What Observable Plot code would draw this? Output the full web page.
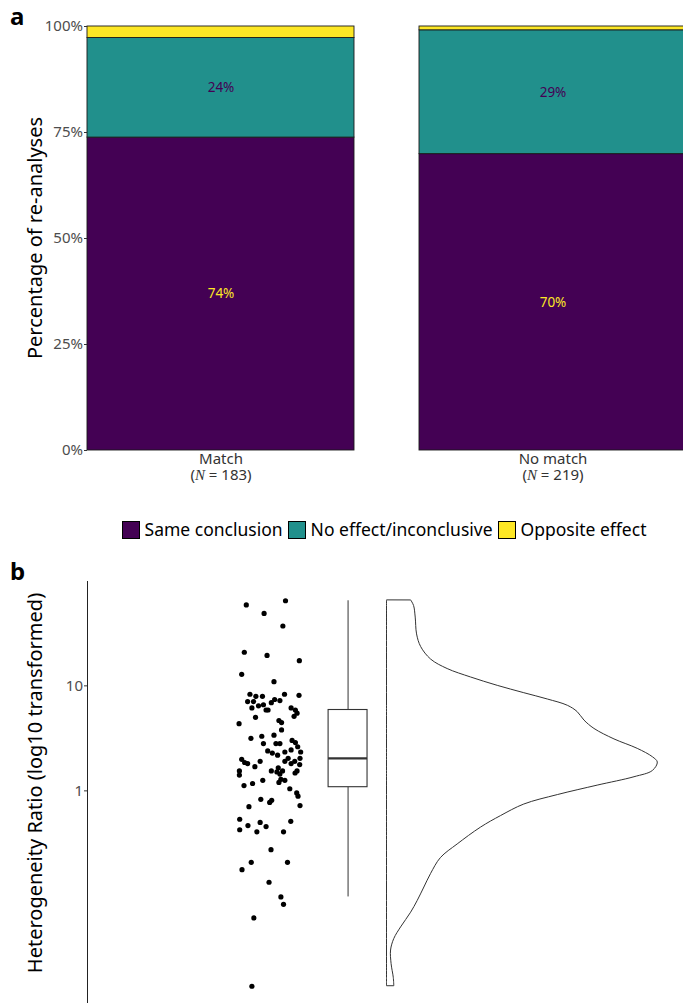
<!DOCTYPE html>
<html><head><meta charset="utf-8">
<script src="https://cdn.jsdelivr.net/npm/d3@7"></script>
<script src="https://cdn.jsdelivr.net/npm/@observablehq/plot@0.6"></script>
<style>
html,body{margin:0;padding:0;background:#fff;overflow:hidden;}
#wrap{position:relative;width:683px;height:1003px;font-family:"Noto Sans",sans-serif;overflow:hidden;}
.plabel{position:absolute;font-weight:bold;font-size:24px;line-height:28px;color:#000;}
.chart{position:absolute;left:0;}
#legend{position:absolute;top:520px;left:87px;width:599px;height:19px;display:flex;justify-content:center;align-items:center;font-size:17.5px;color:#000;}
#legend .sw{display:inline-block;width:18px;height:18px;box-sizing:border-box;border:1px solid #000;flex:none;}
#legend .lt{margin:0 5px 0 5px;white-space:nowrap;line-height:19px;}
</style></head><body><div id="wrap"></div>
<script>
// ---------- data: panel a ----------
const groups = ["Match", "No match"];
const groupN = [183, 219];
const outcomes = ["Same conclusion", "No effect/inconclusive", "Opposite effect"];
const outcomeColors = ["#440154", "#21908C", "#FDE725"];
const matchPct = [73.8, 23.5, 2.7];
const noMatchPct = [69.9, 29.2, 0.9];
const pctTicks = [0, 25, 50, 75, 100];

// ---------- data: panel b (log10 heterogeneity ratio) ----------
// [horizontal jitter (-1..1), log10 ratio]
const ratioPoints = [
[-0.71,1.77],[0.48,1.81],[-0.17,1.69],[0.40,1.57],[-0.77,1.32],[-0.08,1.29],[0.90,1.24],[-0.85,1.11],
[0.13,1.04],[-0.60,0.92],[-0.42,0.90],[-0.22,0.90],[0.45,0.92],[0.89,0.91],[-0.67,0.85],[-0.49,0.85],
[0.15,0.87],[0.31,0.86],[0.05,0.84],[-0.34,0.81],[-0.19,0.82],[-0.54,0.79],[-0.11,0.77],[-0.05,0.77],
[0.65,0.79],[0.78,0.77],[0.83,0.74],[0.74,0.71],[-0.43,0.70],[0.28,0.67],[0.36,0.65],[-0.93,0.64],
[0.36,0.58],[-0.24,0.52],[0.13,0.53],[-0.57,0.50],[0.68,0.48],[0.78,0.46],[-0.19,0.45],[0.19,0.45],
[0.31,0.45],[0.85,0.42],[-0.06,0.38],[0.08,0.36],[0.24,0.34],[0.46,0.37],[0.65,0.39],[0.94,0.37],
[-0.85,0.30],[-0.76,0.27],[-0.67,0.26],[-0.29,0.28],[0.46,0.28],[0.56,0.31],[0.76,0.28],[0.92,0.31],
[-0.45,0.23],[0.26,0.22],[0.65,0.26],[0.91,0.25],[-0.92,0.19],[-0.92,0.15],[0.05,0.19],[0.22,0.18],
[0.39,0.19],[0.31,0.16],[0.83,0.19],[0.77,0.17],[0.46,0.10],[0.34,0.11],[0.28,0.08],[-0.78,0.05],
[-0.52,0.07],[-0.21,0.10],[0.61,0.02],[0.82,-0.02],[0.86,-0.05],[-0.27,-0.08],[0.06,-0.09],[0.00,-0.11],
[0.92,-0.14],[-0.63,-0.15],[-0.91,-0.27],[0.64,-0.29],[-0.91,-0.37],[-0.66,-0.33],[-0.29,-0.30],[-0.11,-0.34],
[-0.39,-0.39],[0.42,-0.39],[0.04,-0.56],[-0.56,-0.68],[0.54,-0.68],[-0.84,-0.75],[-0.02,-0.87],[0.34,-1.01],
[0.42,-1.08],[-0.48,-1.21],[-0.54,-1.86]
];
// violin outline: [log10 ratio, relative density 0..1]
const violinCurve = [
[1.81,0.090],[1.76,0.100],[1.65,0.106],[1.49,0.111],[1.37,0.126],[1.25,0.163],[1.16,0.224],[1.08,0.310],
[1.00,0.409],[0.93,0.507],[0.87,0.594],[0.81,0.668],[0.75,0.704],[0.67,0.729],[0.59,0.766],[0.49,0.840],
[0.40,0.926],[0.32,0.982],[0.27,1.000],[0.19,0.982],[0.13,0.914],[0.05,0.778],[-0.04,0.631],[-0.13,0.507],
[-0.24,0.421],[-0.35,0.347],[-0.51,0.261],[-0.64,0.199],[-0.79,0.163],[-0.92,0.138],[-1.05,0.113],[-1.16,0.089],
[-1.30,0.052],[-1.41,0.027],[-1.52,0.015],[-1.65,0.017],[-1.78,0.025],[-1.86,0.027]
];
const logTicks = [0, 1];

// ---------- build ----------
const wrap = document.getElementById("wrap");
const FONT = "Noto Sans";

function addLabel(txt, left, top) {
  const d = document.createElement("div");
  d.className = "plabel"; d.textContent = txt;
  d.style.left = left + "px"; d.style.top = top + "px";
  wrap.appendChild(d);
}

// panel a
const barData = [];
groups.forEach((g, gi) => {
  const vals = gi === 0 ? matchPct : noMatchPct;
  outcomes.forEach((o, oi) => barData.push({group: g, outcome: o, pct: vals[oi]}));
});
const nOf = g => groupN[groups.indexOf(g)];

const chartA = Plot.plot({
  width: 683, height: 490,
  marginTop: 26, marginBottom: 40, marginLeft: 87, marginRight: 0,
  style: {fontFamily: FONT, fontSize: "15px", background: "transparent", overflow: "visible"},
  x: {domain: groups, range: [87, 686], paddingInner: 0.196, paddingOuter: 0, label: null, axis: null},
  y: {domain: [0, 100], label: null, axis: null},
  color: {domain: outcomes, range: outcomeColors},
  marks: [
    Plot.barY(barData, Plot.stackY({x: "group", y: "pct", fill: "outcome", stroke: "#1a1a1a", strokeWidth: 0.9})),
    Plot.text(barData, Plot.stackY({x: "group", y: "pct",
      text: d => d.outcome === outcomes[0] ? Math.round(d.pct) + "%" : "",
      fill: outcomeColors[2], fontSize: 13.5})),
    Plot.text(barData, Plot.stackY({x: "group", y: "pct",
      text: d => d.outcome === outcomes[1] ? Math.round(d.pct) + "%" : "",
      fill: outcomeColors[0], fontSize: 13.5})),
    Plot.axisY({ticks: pctTicks, tickFormat: d => d + "%", tickSize: 3, tickPadding: 1.5,
      stroke: "#333", fill: "#4d4d4d", label: null}),
    Plot.axisX({tickSize: 0, tickPadding: 1.5, lineHeight: 1.08, fill: "#333", label: null,
      tickFormat: d => `${d}\n(N = ${nOf(d)})`})
  ]
});
chartA.classList.add("chart");
chartA.style.top = "0px";
wrap.appendChild(chartA);

// italic N in x tick labels
const SVGNS = "http://www.w3.org/2000/svg";
chartA.querySelectorAll("tspan").forEach(ts => {
  const t = ts.textContent;
  if (t.startsWith("(N")) {
    const rest = t.slice(2);
    ts.textContent = "(";
    const n = document.createElementNS(SVGNS, "tspan");
    n.setAttribute("font-style", "italic");
    n.setAttribute("font-family", "Liberation Serif");
    n.textContent = "N";
    ts.appendChild(n);
    ts.appendChild(document.createTextNode(rest));
  }
});
d3.select(chartA).append("text")
  .attr("transform", "translate(42,238) rotate(-90)")
  .attr("text-anchor", "middle")
  .attr("font-family", FONT).attr("font-size", 20).attr("fill", "#000")
  .text("Percentage of re-analyses");

addLabel("a", 10, 2);

// legend
const leg = document.createElement("div");
leg.id = "legend";
outcomes.forEach((o, i) => {
  const sw = document.createElement("span"); sw.className = "sw"; sw.style.background = outcomeColors[i];
  const lt = document.createElement("span"); lt.className = "lt"; lt.textContent = o;
  leg.appendChild(sw); leg.appendChild(lt);
});
wrap.appendChild(leg);

// panel b
const pts = ratioPoints.map(([j, l]) => ({j, l}));
const vio = violinCurve.map(([l, w]) => ({l, w}));
const vals = pts.map(d => d.l).sort(d3.ascending);
const q1 = d3.quantile(vals, 0.25), med = d3.quantile(vals, 0.5), q3 = d3.quantile(vals, 0.75);
const iqr = q3 - q1;
const lo = d3.min(vals.filter(v => v >= q1 - 1.5 * iqr));
const hi = d3.max(vals.filter(v => v <= q3 + 1.5 * iqr));
const stats = [{q1, med, q3, lo, hi}];
const [ymin, ymax] = d3.extent(vals.concat(vio.map(d => d.l)));
const pad = (ymax - ymin) * 0.05;

const pointCenter = 0.765, jitterW = 0.066;
const boxCenter = 0.922, boxHalf = 0.039;
const violinBase = 1.0, violinW = 0.5425;

const chartB = Plot.plot({
  width: 683, height: 460,
  marginTop: 21, marginBottom: 15, marginLeft: 87, marginRight: 0,
  style: {fontFamily: FONT, fontSize: "15px", background: "transparent", overflow: "visible"},
  x: {domain: [0.4, 1.6], range: [87, 686], axis: null},
  y: {domain: [ymin - pad, ymax + pad], axis: null},
  marks: [
    Plot.frame({anchor: "left", stroke: "#222", strokeWidth: 1}),
    Plot.axisY({ticks: logTicks, tickFormat: d => String(Math.round(10 ** d)), tickSize: 3, tickPadding: 1.5,
      stroke: "#333", fill: "#4d4d4d", label: null}),
    Plot.dot(pts, {x: d => pointCenter + d.j * jitterW, y: "l", r: 2.6, fill: "#000", stroke: null}),
    Plot.ruleX(stats, {x: boxCenter, y1: "q3", y2: "hi", stroke: "#333", strokeWidth: 1}),
    Plot.ruleX(stats, {x: boxCenter, y1: "lo", y2: "q1", stroke: "#333", strokeWidth: 1}),
    Plot.rect(stats, {x1: boxCenter - boxHalf, x2: boxCenter + boxHalf, y1: "q1", y2: "q3", fill: "#fff", stroke: "#333", strokeWidth: 1.1}),
    Plot.ruleY(stats, {y: "med", x1: boxCenter - boxHalf, x2: boxCenter + boxHalf, stroke: "#333", strokeWidth: 2.2}),
    Plot.areaX(vio, {y: "l", x1: violinBase, x2: d => violinBase + d.w * violinW, fill: "#fff", stroke: "#333", strokeWidth: 1, curve: "catmull-rom"})
  ]
});
chartB.classList.add("chart");
chartB.style.top = "560px";
wrap.appendChild(chartB);
d3.select(chartB).append("text")
  .attr("transform", "translate(42,223) rotate(-90)")
  .attr("text-anchor", "middle")
  .attr("font-family", FONT).attr("font-size", 20).attr("fill", "#000")
  .text("Heterogeneity Ratio (log10 transformed)");

addLabel("b", 10, 557);
</script></body></html>
